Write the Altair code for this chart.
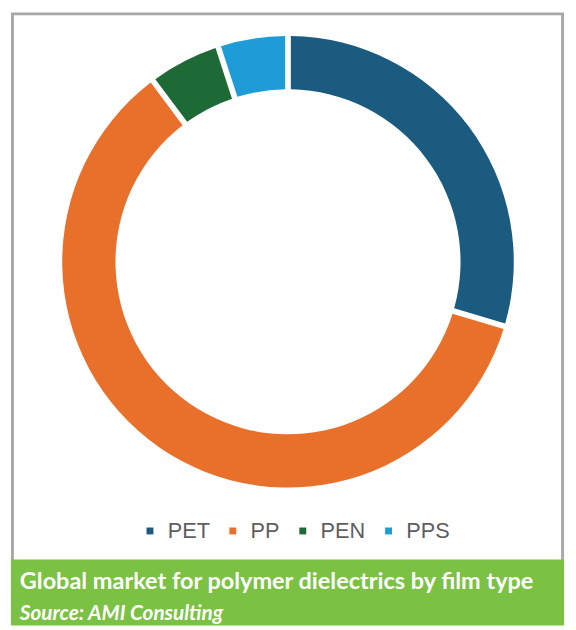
import altair as alt
import pandas as pd

categories = ["PET", "PP", "PEN", "PPS"]
shares = [29.6, 60.2, 5.2, 5.0]
colors = ["#1b5b7f", "#e8702b", "#1e6a36", "#1d9cd8"]
title_text = "Global market for polymer dielectrics by film type"
source_text = "Source: AMI Consulting"

df = pd.DataFrame({"film": categories, "share": shares, "order": list(range(len(categories)))})
one = pd.DataFrame({"k": [0]})

W, H = 568, 622

frame = alt.Chart(one).mark_rect(fill="white", stroke="#a8a8a8", strokeWidth=3).encode(
    x=alt.value(4.5), x2=alt.value(562.5), y=alt.value(1.5), y2=alt.value(558)
)
banner = alt.Chart(one).mark_rect(fill="#7bc143").encode(
    x=alt.value(3), x2=alt.value(564), y=alt.value(555), y2=alt.value(H)
)
donut = alt.Chart(df).mark_arc(radius=229, innerRadius=175, padAngle=0.02).encode(
    theta=alt.Theta("share:Q", stack=True),
    order=alt.Order("order:Q"),
    color=alt.Color(
        "film:N",
        scale=alt.Scale(domain=categories, range=colors),
        legend=alt.Legend(
            orient="none", legendX=133, legendY=515, direction="horizontal",
            symbolType="square", symbolSize=49, symbolStrokeWidth=0,
            labelFontSize=22, labelFont="Liberation Sans", labelColor="#5e5e5e",
            labelOffset=7, columnPadding=12, padding=0, title=None,
        ),
    ),
    x=alt.value(284),
    y=alt.value(253),
)
title = alt.Chart(pd.DataFrame({"t": [title_text]})).mark_text(
    align="left", baseline="alphabetic", font="Lato", fontWeight="bold", fontSize=23.8, color="white"
).encode(text="t:N", x=alt.value(12), y=alt.value(585))
source = alt.Chart(pd.DataFrame({"t": [source_text]})).mark_text(
    align="left", baseline="alphabetic", font="Lato", fontWeight="bold", fontStyle="italic",
    fontSize=21, color="white"
).encode(text="t:N", x=alt.value(12), y=alt.value(616))

chart = alt.layer(frame, banner, donut, title, source).properties(
    width=W, height=H, autosize=alt.AutoSizeParams(type="none"), padding=0
).configure_view(stroke=None)

chart.save("out.html", embed_options={"renderer": "svg", "actions": False})
